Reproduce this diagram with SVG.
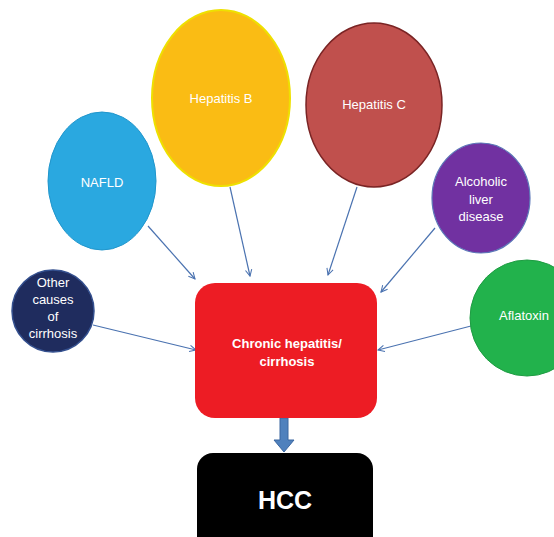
<svg xmlns="http://www.w3.org/2000/svg" width="554" height="537" viewBox="0 0 554 537">
<defs>
<style>
.t{font-family:"Liberation Sans",Arial,sans-serif;font-size:13px;fill:#fff;text-anchor:middle}
.b{font-weight:bold}
.c{stroke:#4A72B0;stroke-width:1.2;fill:none;marker-end:url(#ah)}
</style>
<marker id="ah" viewBox="0 0 10 10" refX="9" refY="5" markerWidth="8" markerHeight="8" orient="auto" markerUnits="userSpaceOnUse">
<path d="M1,1 L9,5 L1,9" fill="none" stroke="#4A72B0" stroke-width="1.3"/>
</marker>
</defs>
<rect width="554" height="537" fill="#fff"/>
<g id="connectors">
<line class="c" x1="93" y1="325" x2="196" y2="350"/>
<line class="c" x1="148" y1="226" x2="195" y2="279"/>
<line class="c" x1="230" y1="187" x2="250" y2="276"/>
<line class="c" x1="357" y1="187" x2="328" y2="275"/>
<line class="c" x1="435" y1="228" x2="381" y2="292"/>
<line class="c" x1="471" y1="326" x2="378" y2="350"/>
<path d="M280,418 H288 V440 H294 L284,452 L274,440 H280 Z" fill="#4F81BD" stroke="#3A66A0" stroke-width="1"/>
</g>
<g id="other">
<ellipse cx="53" cy="311" rx="41" ry="41" fill="#1F2C5E" stroke="#34508F" stroke-width="1.5"/>
<text class="t" x="53" y="287">Other</text>
<text class="t" x="53" y="304">causes</text>
<text class="t" x="53" y="321">of</text>
<text class="t" x="53" y="338">cirrhosis</text>
</g>
<g id="nafld">
<ellipse cx="102" cy="181" rx="54" ry="69" fill="#2AA8E0" stroke="#2196CC" stroke-width="1"/>
<text class="t" x="102" y="187">NAFLD</text>
</g>
<g id="hepb">
<ellipse cx="221" cy="98" rx="69" ry="88" fill="#FABC14" stroke="#EEE000" stroke-width="2"/>
<text class="t" x="221" y="103">Hepatitis B</text>
</g>
<g id="hepc">
<ellipse cx="374" cy="105" rx="68" ry="82" fill="#C0504D" stroke="#7A2424" stroke-width="1.5"/>
<text class="t" x="374" y="109">Hepatitis C</text>
</g>
<g id="alcohol">
<ellipse cx="481" cy="198" rx="49" ry="55" fill="#7131A1" stroke="#5C78B8" stroke-width="1.2"/>
<text class="t" x="481" y="186">Alcoholic</text>
<text class="t" x="481" y="204">liver</text>
<text class="t" x="481" y="221">disease</text>
</g>
<g id="aflatoxin">
<ellipse cx="527" cy="318" rx="57" ry="58" fill="#22B24C" stroke="#1E9C42" stroke-width="1"/>
<text class="t" x="524" y="320">Aflatoxin</text>
</g>
<g id="chronic">
<rect x="195" y="283" width="182" height="135" rx="20" fill="#ED1C24"/>
<text class="t b" x="287" y="348">Chronic hepatitis/</text>
<text class="t b" x="287" y="366">cirrhosis</text>
</g>
<g id="hcc">
<rect x="197" y="453" width="176" height="100" rx="16" fill="#000"/>
<text class="t b" x="285" y="509" style="font-size:25px">HCC</text>
</g>
</svg>
